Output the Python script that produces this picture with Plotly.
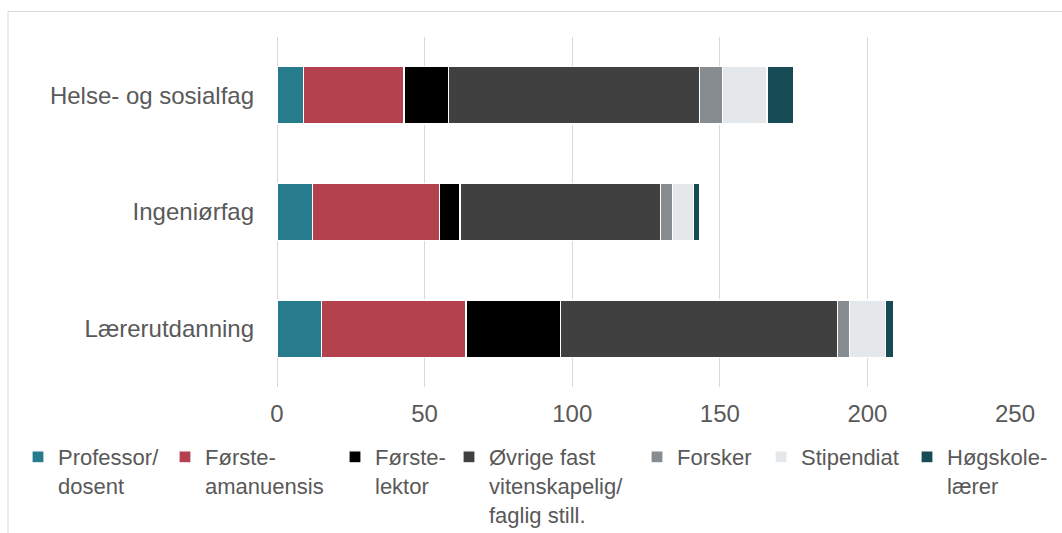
import plotly.graph_objects as go

categories = ["Helse- og sosialfag", "Ingeniørfag", "Lærerutdanning"]
series_names = [
    "Professor/<br>dosent",
    "Første-<br>amanuensis",
    "Første-<br>lektor",
    "Øvrige fast<br>vitenskapelig/<br>faglig still.",
    "Forsker",
    "Stipendiat",
    "Høgskole-<br>lærer",
]
professor = [9, 12, 15]
forsteamanuensis = [34, 43, 49]
forstelektor = [15, 7, 32]
ovrige = [85, 68, 94]
forsker = [8, 4, 4]
stipendiat = [15, 7, 12]
hogskolelaerer = [9, 2, 3]
x_ticks = [0, 50, 100, 150, 200, 250]

series_values = [professor, forsteamanuensis, forstelektor, ovrige,
                 forsker, stipendiat, hogskolelaerer]
colors = ["#267C8C", "#B3424E", "#000000", "#404040", "#878C90", "#E4E8EB", "#174B55"]

# layout geometry (pixels)
W, H = 1062, 533
L, R, T, B = 277, 47, 37, 146
pw = W - L - R
ph = H - T - B
legend_text_x = [58, 205, 375, 489, 677, 801, 947]
legend_top_px = 436

FONT = "Liberation Sans, Arial, sans-serif"
TXT = "#595959"

fig = go.Figure()
layout_legends = {}
for i, (name, vals, col) in enumerate(zip(series_names, series_values, colors)):
    lname = "legend" if i == 0 else f"legend{i+1}"
    fig.add_trace(go.Bar(
        y=categories, x=vals, name=name, orientation="h",
        marker=dict(color=col, line=dict(color="white", width=1.2)),
        legend=lname,
    ))
    layout_legends[lname] = dict(
        x=(legend_text_x[i] - 40 - L) / pw,
        y=(H - B - legend_top_px) / ph,
        xanchor="left", yanchor="top",
        orientation="v",
        font=dict(family=FONT, size=22, color=TXT),
        bgcolor="rgba(0,0,0,0)",
        borderwidth=0,
        valign="top",
        tracegroupgap=0,
    )

fig.update_layout(
    width=W, height=H,
    margin=dict(l=L, r=R, t=T, b=B, pad=0, autoexpand=False),
    barmode="stack",
    bargap=0.51,
    plot_bgcolor="white",
    paper_bgcolor="white",
    font=dict(family=FONT, color=TXT),
    showlegend=True,
    **layout_legends,
    xaxis=dict(
        range=[0, 250], tickvals=x_ticks, showgrid=True, gridcolor="#D9D9D9",
        gridwidth=1, zeroline=True, zerolinecolor="#D9D9D9", zerolinewidth=1,
        showline=False, ticks="", tickfont=dict(family=FONT, size=24, color=TXT),
        ticklabelstandoff=10, fixedrange=True, automargin=False,
    ),
    yaxis=dict(
        categoryorder="array", categoryarray=categories[::-1],
        showgrid=False, zeroline=False, showline=False, ticks="",
        tickfont=dict(family=FONT, size=24, color=TXT),
        ticklabelstandoff=22, fixedrange=True, automargin=False,
    ),
    shapes=[dict(
        type="rect", xref="paper", yref="paper",
        x0=(8 - L) / pw, x1=(W + 20 - L) / pw,
        y0=(H - B - (H + 20)) / ph, y1=(H - B - 11.5) / ph,
        line=dict(color="#D9D9D9", width=1), fillcolor="rgba(0,0,0,0)",
        layer="below",
    )],
)

fig.write_html(
    "out.html",
    config={"displayModeBar": False},
    post_script="document.body.style.margin='0';document.body.style.overflow='hidden';",
)
